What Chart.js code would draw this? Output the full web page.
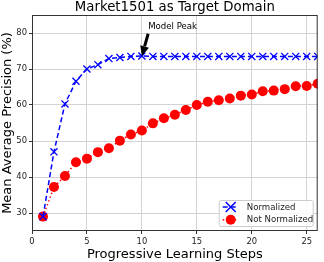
<!DOCTYPE html>
<html><head><meta charset="utf-8">
<script src="https://cdn.jsdelivr.net/npm/chart.js@4/dist/chart.umd.min.js"></script>
<style>html,body{margin:0;padding:0;background:#fff}#c{display:block}</style>
</head><body>
<div style="width:324px;height:262px"><canvas id="c" width="324" height="262"></canvas></div>
<script>
const steps = [1,2,3,4,5,6,7,8,9,10,11,12,13,14,15,16,17,18,19,20,21,22,23,24,25,26];
const normalized = [29,47,60.3,66.6,70,71.2,72.9,73.2,73.5,73.6,73.5,73.5,73.5,73.5,73.5,73.5,73.5,73.5,73.5,73.5,73.5,73.5,73.5,73.5,73.5,73.5];
const notNormalized = [29,37.2,40.3,44.1,45.1,46.9,48,50.1,51.8,52.9,54.9,56.3,57.3,58.6,60,60.9,61.3,61.8,62.6,62.9,63.8,64,64.4,65.2,65.3,65.9];
const xTicks = [0,5,10,15,20,25];
const yTicks = [30,40,50,60,70,80];
const labels = ['Normalized','Not Normalized'];
const chartTitle = 'Market1501 as Target Domain';
const annotation = {text:'Model Peak', x:10, y:73.6, textX:10.57, textY:81.7, tailX:10.57, tailY:79.8};

const F = 'DejaVu Sans';
const frame = {
  id:'frame',
  afterDraw(c){
    const ctx=c.ctx, a=c.chartArea, xs=c.scales.x, ys=c.scales.y;
    ctx.save();
    ctx.strokeStyle='#333'; ctx.lineWidth=1;
    ctx.strokeRect(a.left+0.5,a.top+0.5,a.right-a.left-1,a.bottom-a.top-1);
    // title centered over plot area
    ctx.fillStyle='#000'; ctx.font='13.3px '+F; ctx.textAlign='center'; ctx.textBaseline='middle';
    ctx.fillText(chartTitle,(a.left+a.right)/2,a.top-7);
    // annotation
    const tx=xs.getPixelForValue(annotation.x), ty=ys.getPixelForValue(annotation.y);
    const sx=xs.getPixelForValue(annotation.tailX), sy=ys.getPixelForValue(annotation.tailY);
    ctx.strokeStyle='#000'; ctx.fillStyle='#000'; ctx.lineWidth=3;
    const ang=Math.atan2(ty-sy,tx-sx);
    const hx=tx-10*Math.cos(ang), hy=ty-10*Math.sin(ang);
    ctx.beginPath(); ctx.moveTo(sx,sy); ctx.lineTo(hx,hy); ctx.stroke();
    ctx.beginPath();
    ctx.moveTo(tx,ty);
    ctx.lineTo(hx+4.5*Math.cos(ang+Math.PI/2),hy+4.5*Math.sin(ang+Math.PI/2));
    ctx.lineTo(hx+4.5*Math.cos(ang-Math.PI/2),hy+4.5*Math.sin(ang-Math.PI/2));
    ctx.closePath(); ctx.fill();
    ctx.font='8.6px '+F; ctx.textAlign='left'; ctx.textBaseline='middle';
    ctx.fillText(annotation.text, xs.getPixelForValue(annotation.textX), ys.getPixelForValue(annotation.textY));
    // legend
    const bw=94,bh=26, bx=a.right-bw-5, by=a.bottom-bh-5;
    ctx.fillStyle='rgba(255,255,255,0.85)'; ctx.strokeStyle='#ccc'; ctx.lineWidth=1;
    ctx.beginPath(); ctx.roundRect(bx+0.5,by+0.5,bw,bh,2); ctx.fill(); ctx.stroke();
    const ds=c.data.datasets;
    for(let i=0;i<2;i++){
      const d=ds[i]; const ly=by+7+i*12.7;
      ctx.strokeStyle=d.borderColor; ctx.lineWidth=1.5; ctx.setLineDash(d.borderDash);
      ctx.beginPath(); ctx.moveTo(bx+4,ly); ctx.lineTo(bx+19,ly); ctx.stroke();
      ctx.setLineDash([]);
      const mx=bx+12;
      if(i===0){ ctx.lineWidth=1.5; ctx.beginPath(); ctx.moveTo(mx-5,ly-5);ctx.lineTo(mx+5,ly+5);ctx.moveTo(mx-5,ly+5);ctx.lineTo(mx+5,ly-5);ctx.stroke(); }
      else { ctx.fillStyle='#f00'; ctx.beginPath(); ctx.arc(mx,ly,5,0,Math.PI*2); ctx.fill(); }
      ctx.fillStyle='#222'; ctx.font='8.6px '+F; ctx.textBaseline='middle';
      ctx.fillText(d.label,bx+28,ly+0.5);
    }
    ctx.restore();
  }
};

new Chart(document.getElementById('c'),{
  type:'line',
  data:{datasets:[
    {label:labels[0],data:steps.map((s,i)=>({x:s,y:normalized[i]})),borderColor:'#0000ff',backgroundColor:'#0000ff',borderWidth:1.5,borderDash:[5,3],pointStyle:'crossRot',pointRadius:5,pointBorderWidth:1.3,pointBorderColor:'#0000ff',tension:0},
    {label:labels[1],data:steps.map((s,i)=>({x:s,y:notNormalized[i]})),borderColor:'#ff0000',backgroundColor:'#ff0000',borderWidth:1.5,borderDash:[1.5,2.5],pointStyle:'circle',pointRadius:5,pointBorderWidth:0,pointBackgroundColor:'#ff0000',tension:0}
  ]},
  options:{
    responsive:false,animation:false,
    layout:{padding:{left:0,right:2,top:15,bottom:0}},
    plugins:{
      legend:{display:false},tooltip:{enabled:false},title:{display:false}
    },
    scales:{
      x:{type:'linear',min:0,max:26,
        afterBuildTicks(s){s.ticks=xTicks.map(v=>({value:v}));},
        afterFit(s){s.height=31;},
        grid:{color:'#d3d3d3',tickColor:'#333',tickLength:3,lineWidth:1},
        border:{display:false},
        ticks:{color:'#222',font:{family:F,size:8.4},padding:3,maxRotation:0},
        title:{display:true,text:'Progressive Learning Steps',color:'#000',font:{family:F,size:13},padding:{top:0,bottom:0}}
      },
      y:{min:25,max:85,
        afterBuildTicks(s){s.ticks=yTicks.map(v=>({value:v}));},
        afterFit(s){s.width=32;},
        grid:{color:'#d3d3d3',tickColor:'#333',tickLength:3,lineWidth:1},
        border:{display:false},
        ticks:{color:'#222',font:{family:F,size:8.4},padding:2},
        title:{display:true,text:'Mean Average Precision (%)',color:'#000',font:{family:F,size:13},padding:{top:0,bottom:0}}
      }
    }
  },
  plugins:[frame]
});
</script>
</body></html>
